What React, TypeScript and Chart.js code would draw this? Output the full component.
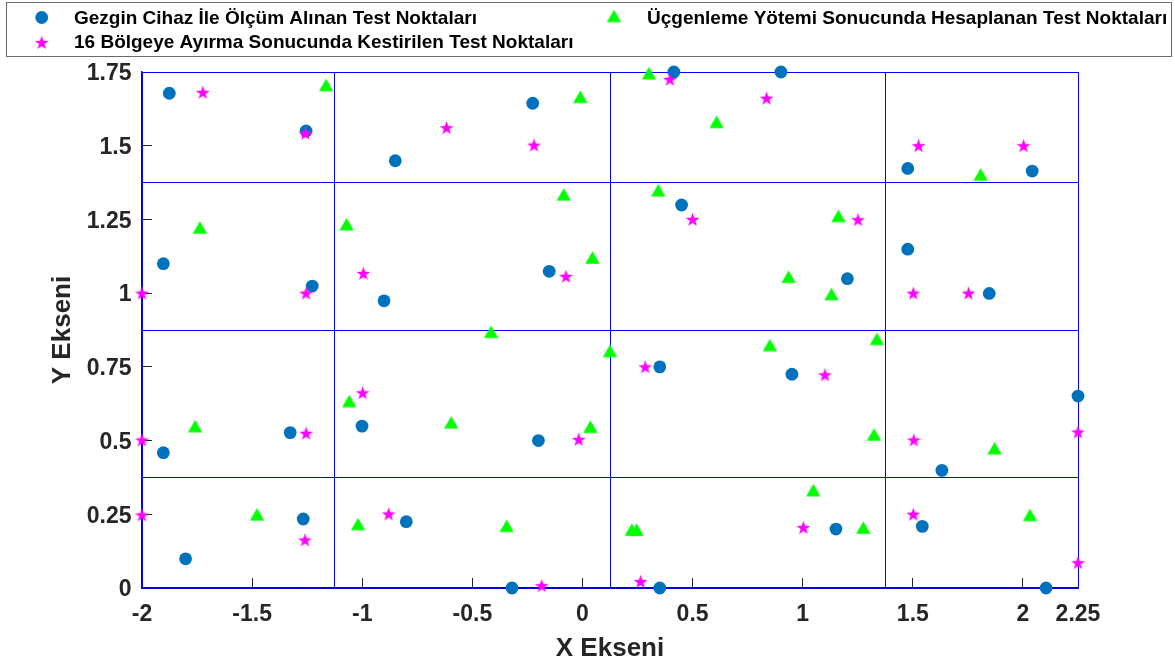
import React, { useEffect, useRef } from 'react';
import { Chart, registerables } from 'chart.js';

Chart.register(...registerables);

// ---- data ----
const legendLabels = [
  'Gezgin Cihaz İle Ölçüm Alınan Test Noktaları',
  'Üçgenleme Yötemi Sonucunda Hesaplanan Test Noktaları',
  '16 Bölgeye Ayırma Sonucunda Kestirilen Test Noktaları',
];

const gezginX = [
  -1.876, -1.255, -1.903, -1.227, -1.903, -1.802, -1.327, -1.268,
  -0.85, -0.226, 0.415, 0.901, -0.901, -0.151, 0.45, -1.001,
  -0.2, -0.8, -0.32, 0.351, 0.351, 0.951, 1.151, 1.632,
  1.543, 2.105, 2.25, 1.477, 2.042, 1.477, 1.203, 1.847,
];
const gezginY = [
  1.678, 1.55, 1.1, 1.024, 0.459, 0.099, 0.527, 0.234,
  1.449, 1.644, 1.75, 1.75, 0.974, 1.074, 1.299, 0.549,
  0.5, 0.225, 0.0, 0.75, 0.0, 0.725, 0.2, 0.399,
  0.209, 0.0, 0.651, 1.423, 1.414, 1.149, 1.049, 0.999,
];

const ucgenX = [
  -1.164, -1.737, -1.071, -1.759, -1.478, -1.019, -0.01, 0.302,
  0.609, -0.085, 0.344, 0.045, 0.936, -0.415, 0.125, -1.059,
  -0.596, 0.036, -0.344, 0.224, 0.246, 0.851, 1.162, 1.131,
  1.808, 1.337, 1.324, 1.048, 1.275, 1.871, 2.032,
];
const ucgenY = [
  1.706, 1.223, 1.234, 0.549, 0.25, 0.217, 1.666, 1.746,
  1.581, 1.335, 1.349, 1.121, 1.056, 0.869, 0.804, 0.634,
  0.562, 0.547, 0.211, 0.198, 0.198, 0.824, 1.262, 0.997,
  1.403, 0.845, 0.521, 0.332, 0.205, 0.474, 0.248,
];

const bolgeX = [
  -1.724, -1.258, -2.0, -1.255, -2.0, -2.0, -1.255, -1.26,
  -0.617, -0.22, 0.397, 0.836, -0.995, -0.075, 0.5, -0.998,
  -0.017, -0.88, -0.185, 0.285, 0.264, 1.101, 1.003, 1.505,
  1.502, 2.25, 2.25, 1.526, 2.003, 1.251, 1.502, 1.753,
];
const bolgeY = [
  1.681, 1.542, 1.0, 1.0, 0.502, 0.248, 0.525, 0.163,
  1.561, 1.502, 1.725, 1.661, 1.067, 1.057, 1.25, 0.662,
  0.504, 0.251, 0.008, 0.75, 0.022, 0.723, 0.205, 0.502,
  0.25, 0.529, 0.086, 1.5, 1.5, 1.249, 1.0, 1.0,
];

const xTickValues = [-2, -1.5, -1, -0.5, 0, 0.5, 1, 1.5, 2, 2.25];
const yTickValues = [0, 0.25, 0.5, 0.75, 1, 1.25, 1.5, 1.75];
const xRegionBounds = [-2, -1.125, 0.125, 1.375, 2.25];
const yRegionBounds = [0, 0.375, 0.875, 1.375, 1.75];

const xTitle = 'X Ekseni';
const yTitle = 'Y Ekseni';

// ---- styles ----
const FONT = '"Liberation Sans", Arial, Helvetica, sans-serif';
const BLUE = '#0072BD';
const GREEN = '#00FF00';
const MAGENTA = '#FF00FF';
const TEXT = '#262626';
const GRID_BLUE = '#0000FF';

function makeStar(R: number, color: string): HTMLCanvasElement {
  const size = Math.ceil(R * 2 + 2);
  const c = document.createElement('canvas');
  c.width = size;
  c.height = size;
  const g = c.getContext('2d')!;
  const cx = size / 2;
  const cy = size / 2 + R * 0.09;
  const r = R * 0.4;
  g.beginPath();
  for (let i = 0; i < 10; i++) {
    const rad = (Math.PI / 5) * i;
    const rr = i % 2 === 0 ? R : r;
    const px = cx + Math.sin(rad) * rr;
    const py = cy - Math.cos(rad) * rr;
    if (i === 0) g.moveTo(px, py);
    else g.lineTo(px, py);
  }
  g.closePath();
  g.fillStyle = color;
  g.fill();
  return c;
}

function makeTriangle(w: number, h: number, color: string): HTMLCanvasElement {
  const cw = Math.ceil(w + 4);
  const ch = Math.ceil(h + 4);
  const c = document.createElement('canvas');
  c.width = cw;
  c.height = ch;
  const g = c.getContext('2d')!;
  const cx = cw / 2;
  const cy = ch / 2;
  g.beginPath();
  g.moveTo(cx, cy - h / 2);
  g.lineTo(cx + w / 2, cy + h / 2);
  g.lineTo(cx - w / 2, cy + h / 2);
  g.closePath();
  g.fillStyle = color;
  g.fill();
  return c;
}

function toPoints(xs: number[], ys: number[]) {
  return xs.map((x, i) => ({ x, y: ys[i] }));
}

export default function App() {
  const canvasRef = useRef<HTMLCanvasElement | null>(null);

  useEffect(() => {
    const canvas = canvasRef.current;
    if (!canvas) return;
    const starImg = makeStar(7.3, MAGENTA);
    const triImg = makeTriangle(14.4, 12.4, GREEN);

    const legendPlugin = {
      id: 'boxedLegend',
      afterDraw(chart: any) {
        const ctx = chart.ctx as CanvasRenderingContext2D;
        ctx.save();
        ctx.strokeStyle = '#6b6b6b';
        ctx.lineWidth = 1;
        ctx.strokeRect(6.5, 2.5, 1165, 54);
        ctx.font = `bold 19px ${FONT}`;
        ctx.textBaseline = 'middle';
        ctx.textAlign = 'left';
        // item 1: circle
        ctx.beginPath();
        ctx.arc(41.7, 17.5, 6.4, 0, Math.PI * 2);
        ctx.fillStyle = BLUE;
        ctx.fill();
        ctx.fillStyle = '#000000';
        ctx.fillText(legendLabels[0], 74, 19);
        // item 2: triangle
        ctx.drawImage(triImg, 614 - triImg.width / 2, 16 - triImg.height / 2);
        ctx.fillText(legendLabels[1], 647, 19);
        // item 3: star
        ctx.drawImage(starImg, 41.7 - starImg.width / 2, 42.5 - starImg.height / 2);
        ctx.fillText(legendLabels[2], 74, 43);
        ctx.restore();
      },
    };

    const tickFont = { family: FONT, size: 23, weight: 'bold' as const };
    const titleFont = { family: FONT, size: 26, weight: 'bold' as const };

    const chart = new Chart(canvas, {
      type: 'scatter',
      data: {
        datasets: [
          {
            label: legendLabels[0],
            data: toPoints(gezginX, gezginY),
            pointStyle: 'circle',
            pointRadius: 6.4,
            pointBackgroundColor: BLUE,
            pointBorderColor: BLUE,
            pointBorderWidth: 0,
            xAxisID: 'x',
            yAxisID: 'y',
            clip: false,
            order: 3,
          },
          {
            label: legendLabels[1],
            data: toPoints(ucgenX, ucgenY),
            pointStyle: triImg,
            xAxisID: 'x',
            yAxisID: 'y',
            clip: false,
            order: 2,
          },
          {
            label: legendLabels[2],
            data: toPoints(bolgeX, bolgeY),
            pointStyle: starImg,
            xAxisID: 'x',
            yAxisID: 'y',
            clip: false,
            order: 1,
          },
        ] as any,
      },
      options: {
        animation: false,
        responsive: false,
        devicePixelRatio: 1,
        layout: { padding: { top: 72, right: 97, bottom: 0, left: 0 } },
        plugins: {
          legend: { display: false },
          tooltip: { enabled: false },
        },
        scales: {
          x: {
            type: 'linear',
            position: 'bottom',
            min: -2,
            max: 2.25,
            afterBuildTicks: (s: any) => {
              s.ticks = xTickValues.map((v) => ({ value: v }));
            },
            afterFit: (s: any) => {
              s.height = 78;
            },
            ticks: {
              autoSkip: false,
              maxRotation: 0,
              minRotation: 0,
              padding: 23,
              color: TEXT,
              font: tickFont,
              callback: (v: any) => String(v),
            },
            grid: {
              drawOnChartArea: false,
              drawTicks: true,
              tickLength: -10,
              tickColor: TEXT,
              tickWidth: 1,
            },
            border: { display: true, color: '#0000DD', width: 1.8 },
            title: {
              display: true,
              text: xTitle,
              color: TEXT,
              font: titleFont,
              padding: { top: 0, bottom: 2 },
            },
          },
          xGrid: {
            type: 'linear',
            position: 'bottom',
            min: -2,
            max: 2.25,
            afterBuildTicks: (s: any) => {
              s.ticks = xRegionBounds.map((v) => ({ value: v }));
            },
            afterFit: (s: any) => {
              s.height = 0;
            },
            ticks: { display: false },
            grid: { drawTicks: false, color: GRID_BLUE, lineWidth: 1 },
            border: { display: false },
          },
          y: {
            type: 'linear',
            position: 'left',
            min: 0,
            max: 1.75,
            afterBuildTicks: (s: any) => {
              s.ticks = yTickValues.map((v) => ({ value: v }));
            },
            afterFit: (s: any) => {
              s.width = 142;
            },
            ticks: {
              autoSkip: false,
              padding: 20.5,
              labelOffset: 2,
              color: TEXT,
              font: tickFont,
              callback: (v: any) => String(v),
            },
            grid: {
              drawOnChartArea: false,
              drawTicks: true,
              tickLength: -10,
              tickColor: TEXT,
              tickWidth: 1,
            },
            border: { display: true, color: GRID_BLUE, width: 1.5 },
            title: {
              display: true,
              text: yTitle,
              color: TEXT,
              font: titleFont,
              padding: { top: 47, bottom: 0 },
            },
          },
          yGrid: {
            type: 'linear',
            position: 'left',
            min: 0,
            max: 1.75,
            afterBuildTicks: (s: any) => {
              s.ticks = yRegionBounds.map((v) => ({ value: v }));
            },
            afterFit: (s: any) => {
              s.width = 0;
            },
            ticks: { display: false },
            grid: { drawTicks: false, color: GRID_BLUE, lineWidth: 1 },
            border: { display: false },
          },
        } as any,
      },
      plugins: [legendPlugin],
    });

    return () => {
      chart.destroy();
    };
  }, []);

  return (
    <div
      style={{
        position: 'fixed',
        left: 0,
        top: 0,
        width: 1175,
        height: 666,
        background: '#ffffff',
      }}
    >
      <canvas ref={canvasRef} width={1175} height={666} style={{ display: 'block' }} />
    </div>
  );
}
